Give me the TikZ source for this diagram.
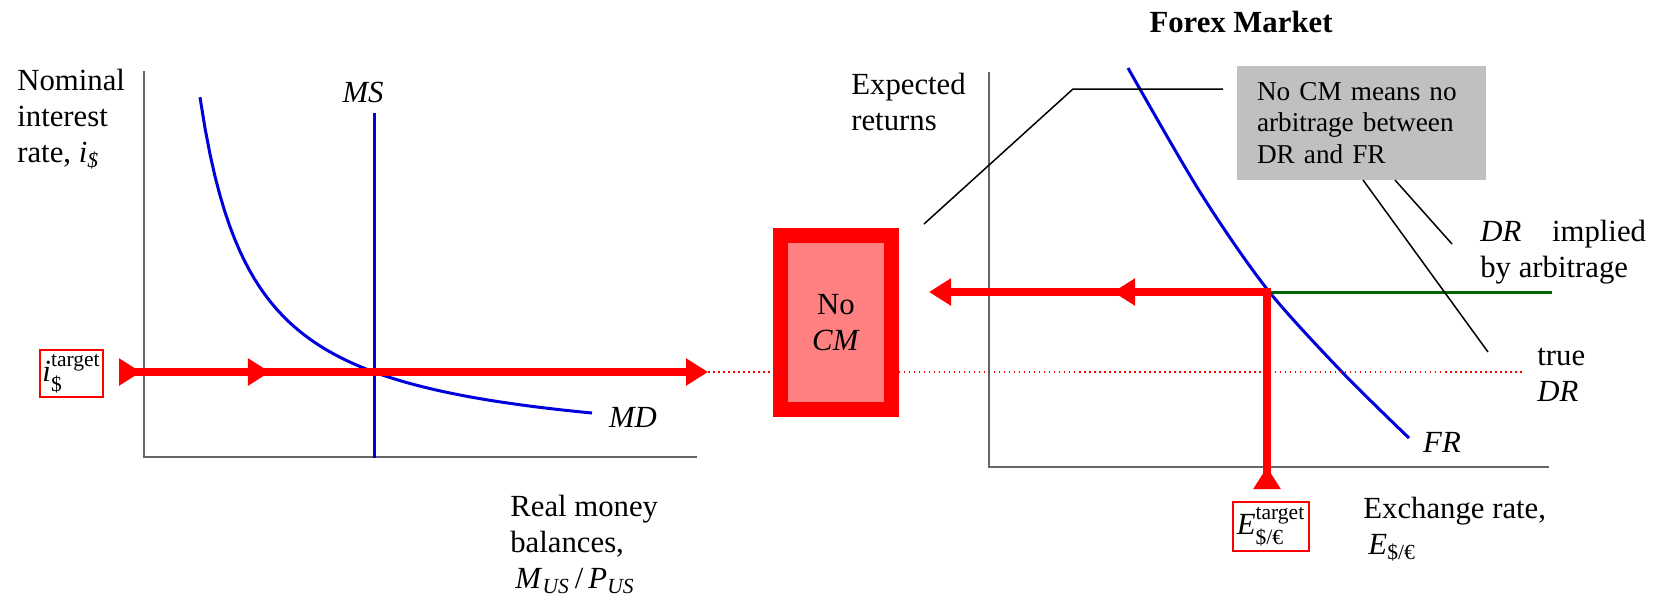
\documentclass[tikz,border=0pt]{standalone}
\usepackage{amsmath}
\usepackage{fontspec}
\setmainfont{Liberation Serif}
\usetikzlibrary{arrows.meta,decorations.markings}

\definecolor{cmfill}{RGB}{255,128,128}
\definecolor{notegray}{RGB}{192,192,192}
\definecolor{drgreen}{RGB}{0,100,0}
\definecolor{curveblue}{RGB}{0,0,220}

\newcommand{\bigfont}{\fontsize{17.5}{20.5}\selectfont}
\newcommand{\notefont}{\fontsize{15.5}{18}\selectfont}

\begin{document}
\begin{tikzpicture}[
  x=0.02cm,y=-0.02cm,
  >={Triangle[length=0.44cm,width=0.52cm]},
  every node/.style={font=\bigfont},
  axis/.style={draw=black!60, line width=0.03cm},
  curve/.style={draw=curveblue, line width=0.06cm},
  axistext/.style={inner sep=0, align=left, anchor=north west},
  policy/.style={draw=red, line width=0.16cm, line join=miter, ->},
  target/.style={draw=red, line width=0.05cm, inner sep=0.04cm, fill=white},
  pointer/.style={draw=black, line width=0.03cm},
  notebox/.style={fill=notegray, minimum width=4.98cm, minimum height=2.28cm, text width=4.18cm, align=left, font=\notefont},
  nocmbox/.style={draw=red, fill=cmfill, line width=0.3cm, minimum width=2.22cm, minimum height=3.48cm, align=center}
]
\useasboundingbox (0,0) rectangle (1654,600);

% money market axes
\coordinate (yL) at (144,71);
\coordinate (oL) at (144,457);
\coordinate (xL) at (697,457);
\draw[axis] (yL) -- (oL) -- (xL);

% forex market axes
\coordinate (yR) at (989,72);
\coordinate (oR) at (989,467);
\coordinate (xR) at (1549,467);
\draw[axis] (yR) -- (oR) -- (xR);

% MS and MD
\coordinate (mstop) at (374,113);
\coordinate (msbot) at (374,458);
\draw[curve] (mstop) -- (msbot);
\draw[curve] plot[domain=200:592, samples=80] (\x, {455.7-190/(\x-147)*100});

% FR
\draw[curve] plot[smooth] coordinates {(1128,68) (1200,192) (1267,289) (1342,372) (1409,438)};

% true DR and implied DR
\coordinate (istart) at (119,372);
\coordinate (iend) at (708,372);
\coordinate (dotend) at (1522,372);
\draw[red, dotted, line width=0.03cm] (iend) -- (dotend);

\coordinate (estart) at (1267,488);
\coordinate (ecorner) at (1267,292);
\coordinate (eend) at (929,292);
\coordinate (drend) at (1552,292);
\draw[draw=drgreen, line width=0.06cm] (ecorner) -- (drend);

\node[nocmbox] (nocm) at (836,322.5) {No\\\textit{CM}};
\node[notebox] (note) at (1361.5,123) {No CM means no\\arbitrage between\\DR and FR};

% pointers
\coordinate (callA) at (924,224);
\coordinate (callB) at (1073,89);
\coordinate (callC) at (1223,89);
\draw[pointer] (callA) -- (callB) -- (callC);
\coordinate (ptrA) at (1363,180);
\coordinate (ptrB) at (1488,352);
\coordinate (ptrC) at (1395,180);
\coordinate (ptrD) at (1452,244);
\draw[pointer] (ptrA) -- (ptrB);
\draw[pointer] (ptrC) -- (ptrD);

% policy arrows
\draw[policy, postaction={decorate, decoration={markings,
    mark=at position 0.44cm with {\arrow{>}},
    mark=at position 3.02cm with {\arrow{>}}}}] (istart) -- (iend);
\draw[policy, postaction={decorate, decoration={markings,
    mark=at position 0.42cm with {\arrow{>}},
    mark=at position 7cm with {\arrow{>}}}}] (estart) -- (ecorner) -- (eend);

% labels
\node[target, minimum width=1.26cm, minimum height=0.94cm] (itarget) at (71.5,373.5) {\textit{i}$^{\text{target}}_{\text{\$}}$};
\node[target, minimum width=1.52cm, minimum height=0.98cm] (etarget) at (1271,526.5) {\textit{E}$^{\text{target}}_{\text{\$/€}}$};
\node[font=\bigfont\bfseries] (title) at (1241,22) {Forex Market};
\node (mslab) at (363,92) {\textit{MS}};
\node (mdlab) at (633,417) {\textit{MD}};
\node (frlab) at (1442,442) {\textit{FR}};
\node[axistext] (ylabL) at (17,69) {Nominal\\interest\\rate, \textit{i}\textsubscript{\textit{\$}}};
\node[axistext] (xlabL) at (510,495) {Real money\\balances,\\\,\textit{M}\textsubscript{\textit{US}}\,/\,\textit{P}\textsubscript{\textit{US}}};
\node[axistext] (ylabR) at (851,73) {Expected\\returns};
\node[axistext] (drimp) at (1480,220) {\textit{DR}\quad implied\\by arbitrage};
\node[axistext] (drtrue) at (1537,348) {true\\\textit{DR}};
\node[axistext] (xlabR) at (1363,497) {Exchange rate,\\\,\textit{E}\textsubscript{\$/€}};
\end{tikzpicture}
\end{document}
